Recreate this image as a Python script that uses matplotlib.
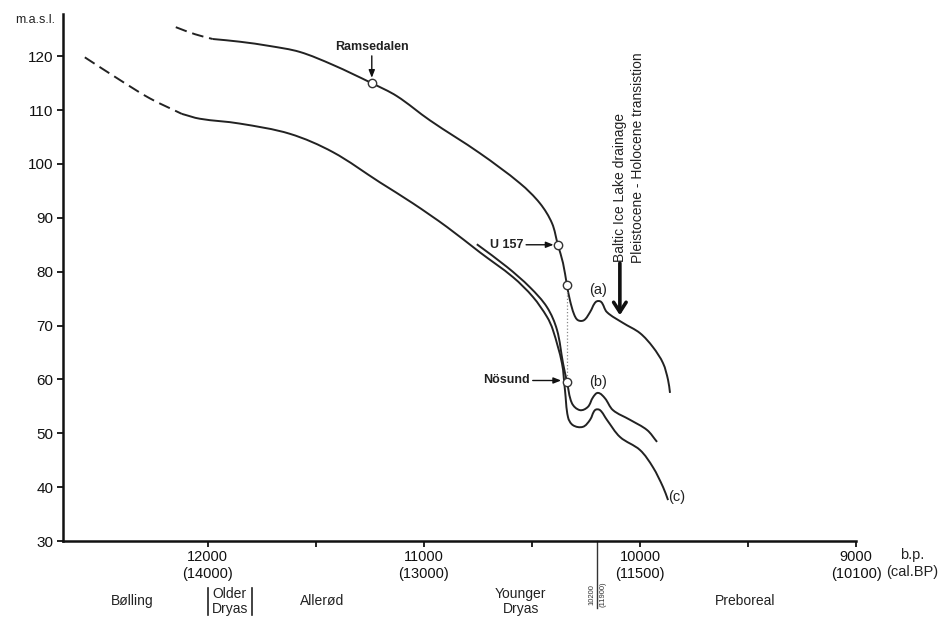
import matplotlib
matplotlib.use("Agg")
import math
import matplotlib.pyplot as plt
import matplotlib.transforms as mtransforms
from matplotlib.path import Path
from matplotlib.patches import PathPatch

plt.rcParams['font.family'] = ['Liberation Sans', 'DejaVu Sans']

# curve (a) - upper shoreline
a_dash_x = [12148, 12060, 11977]
a_dash_y = [125.4, 124.1, 123.2]
a_x = [11977, 11852, 11713, 11574, 11421, 11241, 11125, 10972, 10741, 10555, 10463, 10407,
       10380, 10356, 10338, 10324, 10305, 10287, 10259, 10231, 10204, 10180, 10153, 10079,
       10000, 9940, 9893, 9870, 9861]
a_y = [123.2, 122.7, 121.9, 120.8, 118.4, 115.0, 112.6, 108.1, 102.0, 96.4, 92.7, 89.0,
       85.0, 81.6, 77.5, 74.7, 72.1, 71.0, 71.0, 72.5, 74.4, 74.4, 72.5, 70.5,
       68.6, 66.0, 63.0, 59.9, 57.5]

# curve (b) - middle, short
b_x = [10755, 10616, 10509, 10430, 10384, 10356, 10338, 10315, 10278, 10241, 10217, 10194,
       10162, 10125, 10046, 9967, 9921]
b_y = [85.1, 80.9, 77.1, 73.4, 69.2, 63.0, 59.6, 55.6, 54.3, 54.9, 56.7, 57.5,
       56.5, 54.3, 52.5, 50.6, 48.4]

# curve (c) - lower, long
c_dash_x = [12569, 12407, 12269, 12120]
c_dash_y = [119.8, 115.6, 112.2, 109.3]
c_x = [12120, 12037, 11852, 11620, 11421, 11204, 11051, 10893, 10741, 10588, 10495, 10430,
       10403, 10361, 10347, 10333, 10310, 10264, 10231, 10208, 10185, 10153, 10092, 10000,
       9940, 9893, 9870]
c_y = [109.3, 108.4, 107.5, 105.6, 102.2, 96.6, 92.7, 88.3, 83.6, 79.0, 75.3, 71.6,
       69.2, 63.0, 58.0, 53.0, 51.5, 51.2, 52.5, 54.3, 54.3, 52.5, 49.3, 46.9,
       43.7, 40.0, 37.6]

# dated sites
site_x = [11241, 10380, 10338, 10338]
site_y = [115.0, 85.0, 77.5, 59.6]

xticks_major = [12000, 11000, 10000, 9000]
xticks_cal = [14000, 13000, 11500, 10100]
xticks_minor = [11500, 10500, 9500]
yticks = [30, 40, 50, 60, 70, 80, 90, 100, 110, 120]

periods = ["Bølling", "Older\nDryas", "Allerød", "Younger\nDryas", "Preboreal"]
period_x = [12352, 11898, 11472, 10551, 9514]

col = "#222222"
SX, SY = 1 / 4.63, 1 / 0.1856  # rough px per data unit, for even curve handles


def smooth_curve(ax, xs, ys, **kw):
    # smooth bezier through the read points, handles a third of each chord
    pts = [(x * SX, y * SY) for x, y in zip(xs, ys)]
    n = len(pts)
    tang = []
    for i in range(n):
        p = pts[max(i - 1, 0)]
        q = pts[min(i + 1, n - 1)]
        dx, dy = q[0] - p[0], q[1] - p[1]
        d = math.hypot(dx, dy) or 1.0
        tang.append((dx / d, dy / d))
    verts = [pts[0]]
    codes = [Path.MOVETO]
    for i in range(n - 1):
        p1, p2 = pts[i], pts[i + 1]
        L = math.hypot(p2[0] - p1[0], p2[1] - p1[1]) / 3
        verts += [(p1[0] + tang[i][0] * L, p1[1] + tang[i][1] * L),
                  (p2[0] - tang[i + 1][0] * L, p2[1] - tang[i + 1][1] * L), p2]
        codes += [Path.CURVE4] * 3
    verts = [(x / SX, y / SY) for x, y in verts]
    ax.add_patch(PathPatch(Path(verts, codes), fill=False, **kw))


fig = plt.figure(figsize=(9.43, 6.19), dpi=100)
ax = fig.add_axes([0.0668, 0.126, 0.841, 0.851])

smooth_curve(ax, a_dash_x, a_dash_y, ec=col, lw=1.4, ls=(0, (6, 3)))
smooth_curve(ax, a_x, a_y, ec=col, lw=1.4)
smooth_curve(ax, b_x, b_y, ec=col, lw=1.4)
smooth_curve(ax, c_dash_x, c_dash_y, ec=col, lw=1.4, ls=(0, (6, 3)))
smooth_curve(ax, c_x, c_y, ec=col, lw=1.4)

ax.plot([site_x[2], site_x[3]], [site_y[2], site_y[3]], color="#888888", lw=0.9, ls=":")
ax.plot(site_x, site_y, "o", ms=6, mfc="white", mec="#333333", mew=1.0, zorder=5)

ax.set_xlim(12670, 9000)
ax.set_ylim(30, 127.8)

for s in ["top", "right"]:
    ax.spines[s].set_visible(False)
for s in ["left", "bottom"]:
    ax.spines[s].set_linewidth(1.8)
    ax.spines[s].set_color("#111111")

ax.set_yticks(yticks)
ax.set_yticklabels([str(v) for v in yticks], fontsize=11)
ax.set_xticks(xticks_major)
ax.set_xticklabels([f"{b}\n({c})" for b, c in zip(xticks_major, xticks_cal)],
                   fontsize=10.5, linespacing=1.25)
ax.set_xticks(xticks_minor, minor=True)
ax.tick_params(axis="y", direction="out", length=4, width=1.3, pad=3, colors="#111111")
ax.tick_params(axis="x", which="both", direction="out", length=4, width=1.3, pad=2.5,
               colors="#111111")

fig.text(0.037, 0.968, "m.a.s.l.", fontsize=9, ha="center", va="center", color="#222222")

trans = mtransforms.blended_transform_factory(ax.transData, ax.transAxes)
ax.text(8740, -0.013, "b.p.\n(cal.BP)", transform=trans, ha="center", va="top",
        fontsize=10.5, linespacing=1.25, color="#222222")

for name, px in zip(periods, period_x):
    ax.text(px, -0.114, name, transform=trans, ha="center", va="center", fontsize=10,
            linespacing=1.1, color="#222222")
for bx in [12000, 11796]:
    ax.plot([bx, bx], [-0.089, -0.140], transform=trans, color="#222222", lw=1.2, clip_on=False)

ax.plot([10200, 10200], [0, -0.127], transform=trans, color="#333333", lw=1.0, clip_on=False)
ax.text(10222, -0.102, "10200", transform=trans, rotation=90, ha="center", va="center",
        fontsize=5.5, color="#333333")
ax.text(10171, -0.102, "(11900)", transform=trans, rotation=90, ha="center", va="center",
        fontsize=5.5, color="#333333")

lab = dict(fontsize=10.5, color="#222222", ha="center", va="center")
ax.text(10194, 76.6, "(a)", **lab)
ax.text(10194, 59.5, "(b)", **lab)
ax.text(9829, 38.2, "(c)", **lab)

small_arrow = dict(arrowstyle="-|>,head_length=0.5,head_width=0.2", color="#111111", lw=1.0,
                   shrinkA=0, shrinkB=0)
ax.annotate("Ramsedalen", xy=(11241, 116.0), xytext=(11241, 121.7), ha="center", va="center",
            fontsize=9, fontweight="bold", color="#222222", arrowprops=small_arrow)
ax.annotate("U 157", xy=(10400, 85.0), xytext=(10617, 85.0), ha="center", va="center",
            fontsize=9, fontweight="bold", color="#222222", arrowprops=small_arrow)
ax.annotate("Nösund", xy=(10365, 59.8), xytext=(10617, 59.8), ha="center", va="center",
            fontsize=9, fontweight="bold", color="#222222", arrowprops=small_arrow)

ax.annotate("", xy=(10093, 71.9), xytext=(10093, 81.6),
            arrowprops=dict(arrowstyle="->,head_length=0.7,head_width=0.45", color="#111111",
                            lw=2.6, shrinkA=0, shrinkB=0))
ax.text(10093, 81.8, "Baltic Ice Lake drainage", rotation=90, ha="center", va="bottom",
        fontsize=10, color="#222222")
ax.text(10009, 81.6, "Pleistocene - Holocene transistion", rotation=90, ha="center",
        va="bottom", fontsize=10, color="#222222")

fig.savefig("out.png", dpi=100)
